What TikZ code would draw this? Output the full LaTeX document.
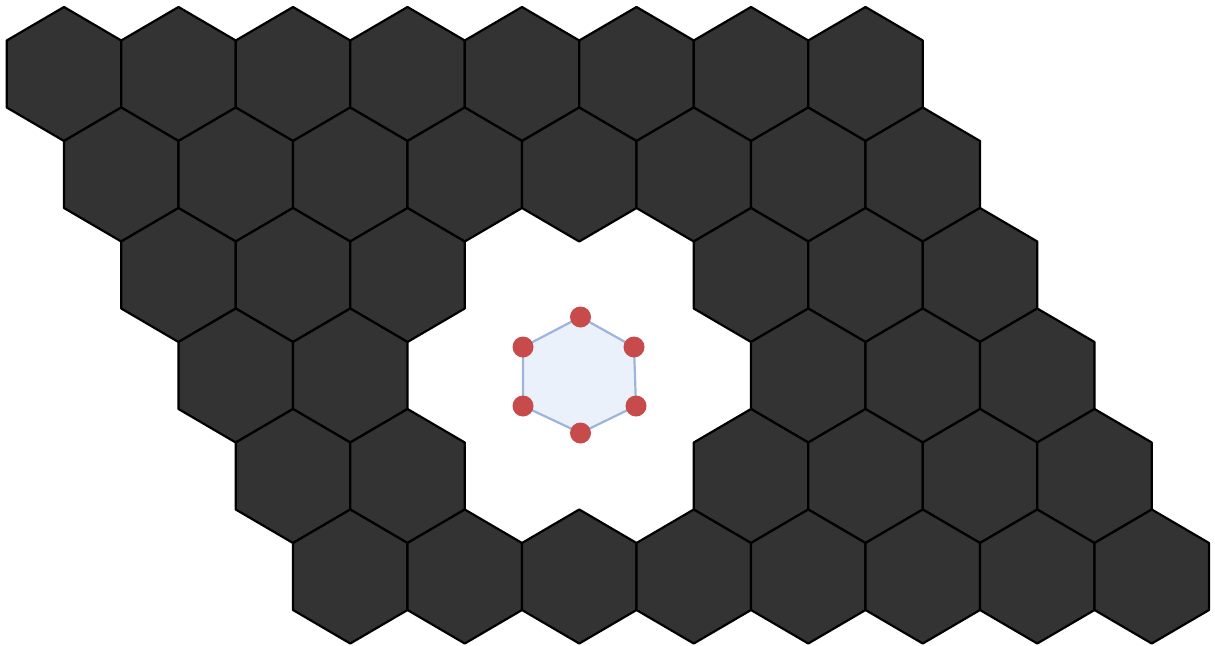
\documentclass[tikz,border=0pt]{standalone}
\usepackage{tikz}
\usetikzlibrary{calc,positioning}
\definecolor{celledge}{HTML}{9DB4DD}
\definecolor{cellfill}{HTML}{EAF1FA}
\definecolor{sitered}{HTML}{C84B4B}

\begin{document}
\begin{tikzpicture}[
    x=1pt, y=-1pt,
    tile/.pic={\path[draw=black, fill=black!80, line width=2.2pt, line join=round]
        (0,-67) -- (57.25,-33.5) -- (57.25,33.5) -- (0,67)
        -- (-57.25,33.5) -- (-57.25,-33.5) -- cycle;},
    cell/.style={draw=celledge, line width=2.2pt, fill=cellfill},
    site/.style={circle, fill=sitered, inner sep=0pt, minimum size=21pt}
]
\useasboundingbox (0,0) rectangle (1215,645);
% lattice with the hole of seven cells left out
\foreach \row/\cols in {0/{0,...,7}, 1/{0,...,7}, 2/{0,1,2,5,6,7},
                        3/{0,1,5,6,7}, 4/{0,1,4,5,6,7}, 5/{0,...,7}}
  \foreach \col in \cols
    \pic at ({64+114.5*\col+57.25*\row}, {74+100.5*\row}) {tile};
% the central cell
\coordinate (c) at (580,375);
\draw[cell] ($(c)+(0.5,-58)$) -- ($(c)+(54,-28)$) -- ($(c)+(56,31)$)
    -- ($(c)+(0.5,58)$) -- ($(c)+(-57,31)$) -- ($(c)+(-57,-28)$) -- cycle;
\node[site] (s1) at ($(c)+(0.5,-58)$) {};
\node[site] (s2) at ($(c)+(54,-28)$) {};
\node[site] (s3) at ($(c)+(56,31)$) {};
\node[site] (s4) at ($(c)+(0.5,58)$) {};
\node[site] (s5) at ($(c)+(-57,31)$) {};
\node[site] (s6) at ($(c)+(-57,-28)$) {};
\end{tikzpicture}
\end{document}
